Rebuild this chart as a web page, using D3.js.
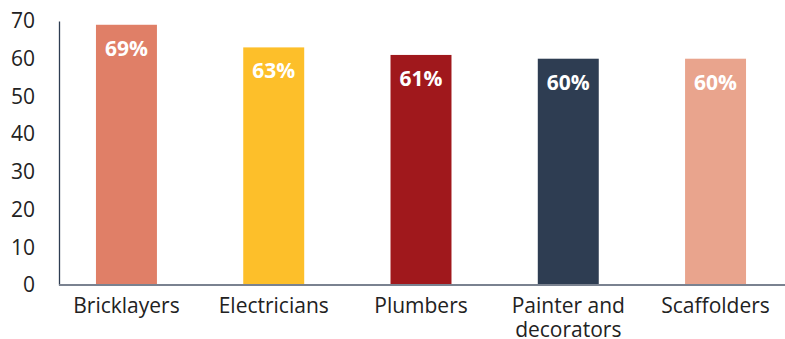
<!DOCTYPE html>
<html>
<head>
<meta charset="utf-8">
<script src="https://cdn.jsdelivr.net/npm/d3@7"></script>
<style>
  body { margin: 0; background: #fff; }
  text { font-family: 'Open Sans', sans-serif; }
</style>
</head>
<body>
<svg width="785" height="339"></svg>
<script>
const categories = ['Bricklayers', 'Electricians', 'Plumbers', 'Painter and decorators', 'Scaffolders'];
const values = [69, 63, 61, 60, 60];
const barColors = ['#e07f67', '#fdbf2a', '#a0181c', '#2e3d52', '#e9a48d'];
const yTicks = [0, 10, 20, 30, 40, 50, 60, 70];

const svg = d3.select('svg'),
    plotLeft = 59,
    plotRight = 783,
    plotTop = 21,
    plotBottom = 285;

const x = d3.scaleBand()
    .domain(categories)
    .range([plotLeft, plotRight])
    .paddingInner(0.586)
    .paddingOuter(0.251);

const y = d3.scaleLinear()
    .domain([0, 70])
    .range([plotBottom, plotTop]);

// bars
svg.append('g')
    .selectAll('rect')
    .data(values)
    .join('rect')
    .attr('x', (d, i) => x(categories[i]))
    .attr('y', d => y(d))
    .attr('width', x.bandwidth())
    .attr('height', d => plotBottom - y(d))
    .attr('fill', (d, i) => barColors[i]);

// value labels
svg.append('g')
    .selectAll('text')
    .data(values)
    .join('text')
    .attr('x', (d, i) => x(categories[i]) + x.bandwidth() / 2)
    .attr('y', d => y(d) + 31)
    .attr('text-anchor', 'middle')
    .attr('fill', '#fff')
    .attr('font-weight', 'bold')
    .attr('font-size', 21)
    .text(d => d + '%');

// y axis
const yAxis = svg.append('g')
    .attr('transform', 'translate(' + plotLeft + ',0)')
    .call(d3.axisLeft(y).tickValues(yTicks).tickSize(0).tickPadding(24));
yAxis.select('.domain').attr('stroke', '#2e3d52').attr('stroke-width', 1.3);
yAxis.selectAll('text').attr('font-size', 21).attr('fill', '#222');

// x axis
const xAxis = svg.append('g')
    .attr('transform', 'translate(0,' + plotBottom + ')')
    .call(d3.axisBottom(x).tickSize(0).tickPadding(13));
xAxis.select('.domain').attr('d', 'M' + plotLeft + ',0H785').attr('stroke', '#7a8290').attr('stroke-width', 2);
xAxis.selectAll('text')
    .attr('font-size', 21)
    .attr('fill', '#222')
    .each(function(d) {
        const t = d3.select(this);
        if (d === 'Painter and decorators') {
            t.text(null);
            t.append('tspan').attr('x', 0).attr('dy', '0.71em').text('Painter and');
            t.append('tspan').attr('x', 0).attr('dy', '1.15em').text('decorators');
            t.attr('dy', null);
        }
    });
</script>
</body>
</html>
